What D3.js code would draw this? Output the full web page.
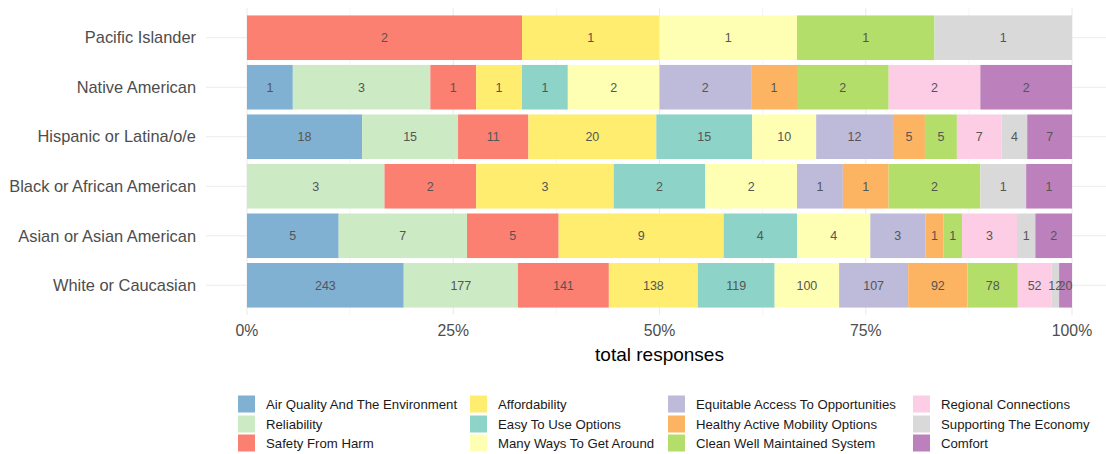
<!DOCTYPE html>
<html>
<head>
<meta charset="utf-8">
<script src="https://cdn.jsdelivr.net/npm/d3@7"></script>
<style>
  body { margin: 0; background: #fff; }
  svg { font-family: "Liberation Sans", Arial, sans-serif; }
</style>
</head>
<body>
<svg id="chart" width="1106" height="454"></svg>
<script>
// groups, top to bottom
var groups = ["Pacific Islander", "Native American", "Hispanic or Latina/o/e",
  "Black or African American", "Asian or Asian American", "White or Caucasian"];

// response categories, in stacking order
var categories = ["Air Quality And The Environment", "Reliability", "Safety From Harm",
  "Affordability", "Easy To Use Options", "Many Ways To Get Around",
  "Equitable Access To Opportunities", "Healthy Active Mobility Options",
  "Clean Well Maintained System", "Regional Connections", "Supporting The Economy", "Comfort"];

var colors = ["#80B1D3", "#CCEBC5", "#FB8072", "#FFED6F", "#8DD3C7", "#FFFFB3",
  "#BEBADA", "#FDB462", "#B3DE69", "#FCCDE5", "#D9D9D9", "#BC80BD"];

// counts per group, same order as categories
var pacificIslander = [0, 0, 2, 1, 0, 1, 0, 0, 1, 0, 1, 0];
var nativeAmerican  = [1, 3, 1, 1, 1, 2, 2, 1, 2, 2, 0, 2];
var hispanicLatino  = [18, 15, 11, 20, 15, 10, 12, 5, 5, 7, 4, 7];
var blackAfrican    = [0, 3, 2, 3, 2, 2, 1, 1, 2, 0, 1, 1];
var asianAmerican   = [5, 7, 5, 9, 4, 4, 3, 1, 1, 3, 1, 2];
var whiteCaucasian  = [243, 177, 141, 138, 119, 100, 107, 92, 78, 52, 12, 20];

var counts = [pacificIslander, nativeAmerican, hispanicLatino, blackAfrican, asianAmerican, whiteCaucasian];

var xTicks = [0, 0.25, 0.5, 0.75, 1];

var svg = d3.select("#chart");

var panel = { left: 206, right: 1106, top: 8, bottom: 315 };

var x = d3.scaleLinear().domain([0, 1]).range([247, 1072]);

// discrete axis with 0.6 expansion on each end, bars 0.9 wide
var step = (panel.bottom - panel.top) / (groups.length - 1 + 1.2);
var y = d3.scalePoint().domain(groups).range([panel.top + 0.6 * step, panel.bottom - 0.6 * step]);
var barH = step * 0.9;

// grid
var grid = svg.append("g");
var minor = [0.125, 0.375, 0.625, 0.875];
grid.selectAll(".minor").data(minor).enter().append("line")
  .attr("x1", d => x(d)).attr("x2", d => x(d))
  .attr("y1", panel.top).attr("y2", panel.bottom)
  .attr("stroke", "#f3f3f3").attr("stroke-width", 0.8);
grid.selectAll(".major").data(xTicks).enter().append("line")
  .attr("x1", d => x(d)).attr("x2", d => x(d))
  .attr("y1", panel.top).attr("y2", panel.bottom)
  .attr("stroke", "#ebebeb").attr("stroke-width", 1.1);
grid.selectAll(".hmajor").data(groups).enter().append("line")
  .attr("x1", panel.left).attr("x2", panel.right)
  .attr("y1", d => y(d)).attr("y2", d => y(d))
  .attr("stroke", "#ebebeb").attr("stroke-width", 1.1);

// bars
var rows = groups.map(function (g, i) {
  var total = d3.sum(counts[i]);
  var acc = 0;
  return counts[i].map(function (v, j) {
    var seg = { group: g, cat: j, value: v, x0: acc / total, x1: (acc + v) / total };
    acc += v;
    return seg;
  }).filter(d => d.value > 0);
});

var bars = svg.append("g");
rows.forEach(function (segs) {
  var g = bars.append("g");
  g.selectAll("rect").data(segs).enter().append("rect")
    .attr("x", d => x(d.x0))
    .attr("width", d => x(d.x1) - x(d.x0))
    .attr("y", d => y(d.group) - barH / 2)
    .attr("height", barH)
    .attr("fill", d => colors[d.cat]);
  g.selectAll("text").data(segs).enter().append("text")
    .attr("x", d => (x(d.x0) + x(d.x1)) / 2)
    .attr("y", d => y(d.group))
    .attr("dy", "0.35em")
    .attr("text-anchor", "middle")
    .attr("font-size", 12.5)
    .attr("fill", "#555555")
    .text(d => d.value);
});

// y axis labels
svg.append("g").selectAll("text").data(groups).enter().append("text")
  .attr("x", 196)
  .attr("y", d => y(d))
  .attr("dy", "0.35em")
  .attr("text-anchor", "end")
  .attr("font-size", 16.4)
  .attr("fill", "#4d4d4d")
  .text(d => d);

// x axis labels
svg.append("g").selectAll("text").data(xTicks).enter().append("text")
  .attr("x", d => x(d))
  .attr("y", 330)
  .attr("dy", "0.35em")
  .attr("text-anchor", "middle")
  .attr("font-size", 15.8)
  .attr("fill", "#4d4d4d")
  .text(d3.format(".0%"));

svg.append("text")
  .attr("x", (x(0) + x(1)) / 2)
  .attr("y", 354)
  .attr("dy", "0.35em")
  .attr("text-anchor", "middle")
  .attr("font-size", 19)
  .attr("fill", "#000")
  .text("total responses");

// legend: 4 columns x 3 rows, filled by column
var legCols = [238, 470, 668, 913];
var legRows = [404, 424, 443];
var legend = svg.append("g").selectAll("g").data(categories).enter().append("g")
  .attr("transform", (d, i) => "translate(" + legCols[Math.floor(i / 3)] + "," + legRows[i % 3] + ")");
legend.append("rect")
  .attr("x", 0).attr("y", -8.5)
  .attr("width", 17).attr("height", 17)
  .attr("fill", (d, i) => colors[i]);
legend.append("text")
  .attr("x", 28)
  .attr("y", 0)
  .attr("dy", "0.35em")
  .attr("font-size", 13.2)
  .attr("fill", "#1a1a1a")
  .text(d => d);
</script>
</body>
</html>
